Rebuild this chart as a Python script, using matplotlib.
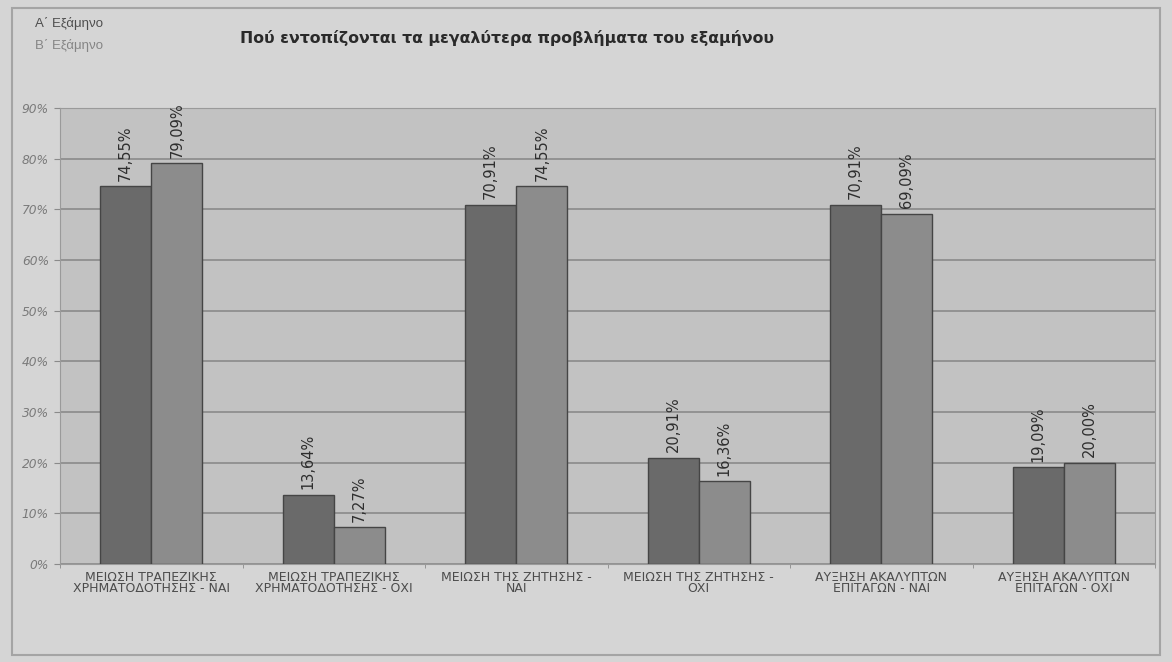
import numpy as np
import matplotlib.pyplot as plt
from matplotlib.patches import Rectangle

plt.rcParams['font.family'] = ['DejaVu Sans']

categories = ['ΜΕΙΩΣΗ ΤΡΑΠΕΖΙΚΗΣ\nΧΡΗΜΑΤΟΔΟΤΗΣΗΣ - ΝΑΙ',
              'ΜΕΙΩΣΗ ΤΡΑΠΕΖΙΚΗΣ\nΧΡΗΜΑΤΟΔΟΤΗΣΗΣ - ΟΧΙ',
              'ΜΕΙΩΣΗ ΤΗΣ ΖΗΤΗΣΗΣ -\nΝΑΙ',
              'ΜΕΙΩΣΗ ΤΗΣ ΖΗΤΗΣΗΣ -\nΟΧΙ',
              'ΑΥΞΗΣΗ ΑΚΑΛΥΠΤΩΝ\nΕΠΙΤΑΓΩΝ - ΝΑΙ',
              'ΑΥΞΗΣΗ ΑΚΑΛΥΠΤΩΝ\nΕΠΙΤΑΓΩΝ - ΟΧΙ']
sem_a = [74.55, 13.64, 70.91, 20.91, 70.91, 19.09]
sem_b = [79.09, 7.27, 74.55, 16.36, 69.09, 20.00]
yticks = [0, 10, 20, 30, 40, 50, 60, 70, 80, 90]

col_a = '#6a6a6a'
col_b = '#8c8c8c'

fig = plt.figure(figsize=(11.72, 6.62), dpi=100, facecolor='#d5d5d5')
ax = fig.add_axes([0.0512, 0.148, 0.9343, 0.689])
ax.set_facecolor('#c2c2c2')

# outer frame
fig.patches.append(Rectangle((12/1172, 7/662), 1148/1172, 647/662,
                             transform=fig.transFigure, fill=False,
                             edgecolor='#a4a4a4', lw=1.5))

x = np.arange(len(categories))
w = 0.28
bars_a = ax.bar(x - w/2, sem_a, w, color=col_a, edgecolor='#454545', lw=1, zorder=3)
bars_b = ax.bar(x + w/2, sem_b, w, color=col_b, edgecolor='#454545', lw=1, zorder=3)

for bars, vals in ((bars_a, sem_a), (bars_b, sem_b)):
    for b, v in zip(bars, vals):
        ax.annotate(f'{v:.2f}%'.replace('.', ','),
                    (b.get_x() + b.get_width()/2, v),
                    xytext=(0, 4), textcoords='offset points',
                    rotation=90, ha='center', va='bottom',
                    fontsize=10.5, color='#2e2e2e')

ax.set_xlim(-0.5, 5.5)
ax.set_ylim(0, 90)
ax.set_yticks(yticks)
ax.set_yticklabels([f'{t}%' for t in yticks], fontsize=8.8, color='#7a7a7a',
                   style='italic')
ax.yaxis.grid(True, color='#8a8a8a', lw=1.2, zorder=0)
ax.tick_params(axis='y', length=4, color='#8a8a8a', pad=4)
ax.set_xticks(x)
ax.set_xticklabels(categories, fontsize=9, color='#4c4c4c', linespacing=0.85)
ax.set_xticks(np.arange(-0.5, 6, 1), minor=True)
ax.tick_params(axis='x', which='major', length=0, pad=5)
ax.tick_params(axis='x', which='minor', length=3, color='#8a8a8a')
for s in ax.spines.values():
    s.set_color('#9a9a9a')

fig.text(240/1172, 1 - 38/662, 'Πού εντοπίζονται τα μεγαλύτερα προβλήματα του εξαμήνου',
         fontsize=11.3, weight='bold', color='#2a2a2a', va='center')
fig.text(35/1172, 1 - 23/662, 'Α΄ Εξάμηνο', fontsize=9.5, color='#4e4e4e', va='center',
         family='Liberation Sans')
fig.text(35/1172, 1 - 46/662, 'Β΄ Εξάμηνο', fontsize=9.5, color='#858585', va='center',
         family='Liberation Sans')

fig.savefig('out.png', dpi=100, facecolor=fig.get_facecolor())
